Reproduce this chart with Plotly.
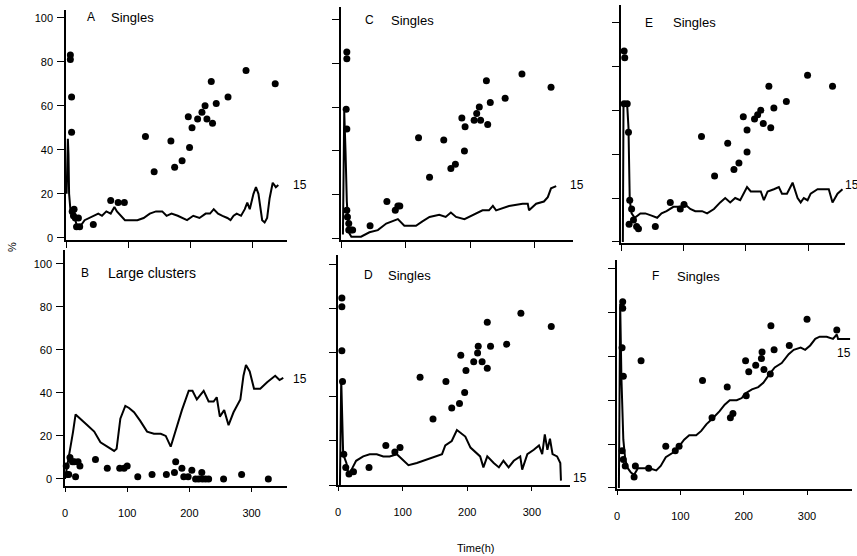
import plotly.graph_objects as go

W, H = 857, 556

# ---------------- data ----------------
A_line_x = [1, 2, 3, 4, 5, 7, 10, 13, 17, 20, 25, 30, 38, 45, 52, 58, 65, 72, 78, 82, 88, 95, 105, 115, 125, 135, 145, 155, 162, 170, 180, 188, 195, 205, 215, 225, 232, 238, 245, 252, 260, 265, 270, 275, 282, 288, 292, 296, 302, 306, 310, 313, 316, 320, 324, 328, 333, 338, 342]
A_line_y = [20, 30, 45, 38, 20, 13, 12, 10, 6, 5, 6, 8, 9, 10, 11, 10, 12, 11, 14, 12, 10, 8, 8, 8, 9, 11, 12, 12, 10, 11, 10, 9, 8, 10, 9, 11, 11, 13, 11, 10, 9, 8, 10, 11, 10, 13, 16, 13, 20, 23, 20, 14, 8, 7, 9, 18, 25, 23, 24]
A_pts_x = [7, 7, 9, 9, 10, 12, 13, 15, 17, 20, 22, 44, 72, 84, 94, 128, 142, 169, 175, 187, 199, 197, 203, 212, 219, 224, 227, 234, 236, 242, 261, 290, 337]
A_pts_y = [83, 81, 64, 48, 12, 10, 13, 9, 5, 9, 5, 6, 17, 16, 16, 46, 30, 44, 32, 35, 41, 55, 50, 54, 57, 60, 54, 71, 52, 61, 64, 76, 70]

B_line_x = [0, 3, 8, 13, 17, 21, 28, 36, 47, 57, 68, 79, 83, 89, 97, 103, 111, 121, 132, 143, 154, 162, 170, 180, 188, 199, 205, 212, 223, 231, 239, 244, 249, 256, 263, 271, 282, 287, 291, 297, 304, 314, 325, 338, 345, 351]
B_line_y = [0, 5, 12, 22, 30, 29, 27, 25, 22, 17, 15, 13, 14, 28, 34, 33, 31, 27, 22, 21, 21, 20, 15, 25, 32, 41, 41, 37, 41, 36, 36, 38, 29, 32, 25, 31, 37, 48, 53, 50, 42, 42, 45, 48, 46, 47]
B_pts_x = [2, 4, 6, 8, 12, 15, 17, 21, 24, 49, 68, 88, 95, 100, 117, 140, 163, 176, 178, 188, 191, 198, 204, 210, 215, 220, 221, 226, 231, 255, 284, 327]
B_pts_y = [6, 2, 2, 10, 8, 8, 1, 8, 6, 9, 5, 5, 5, 6, 1, 2, 2, 3, 8, 5, 1, 1, 4, 0, 0, 3, 0, 0, 0, 0, 2, 0]

C_line_x = [3, 5, 7, 9, 12, 16, 21, 31, 44, 57, 70, 80, 88, 98, 106, 116, 126, 137, 152, 162, 170, 178, 191, 204, 219, 229, 235, 240, 250, 260, 281, 289, 291, 302, 314, 320, 325, 333]
C_line_y = [2, 58, 40, 17, 3, 1, 1, 1, 3, 4, 7, 8, 9, 6, 6, 6, 8, 10, 11, 10, 12, 10, 9, 11, 13, 13, 15, 13, 14, 15, 16, 16, 13, 16, 17, 19, 23, 24]
C_pts_x = [9, 9, 8, 9, 9, 10, 12, 12, 15, 18, 45, 71, 84, 88, 91, 120, 137, 159, 170, 177, 187, 191, 192, 206, 210, 214, 216, 225, 227, 231, 254, 280, 325]
C_pts_y = [85, 82, 59, 50, 13, 10, 7, 4, 4, 4, 6, 17, 13, 15, 15, 46, 28, 45, 32, 34, 55, 40, 51, 54, 57, 60, 54, 72, 52, 62, 64, 75, 69]

D_line_x = [3, 5, 8, 13, 16, 21, 28, 39, 49, 60, 70, 80, 91, 101, 109, 122, 132, 143, 153, 161, 166, 176, 184, 189, 197, 205, 212, 220, 225, 231, 241, 249, 256, 264, 272, 282, 285, 293, 303, 311, 316, 320, 324, 328, 332, 339, 344, 345]
D_line_y = [0, 48, 14, 10, 5, 7, 11, 13, 14, 14, 13, 13, 14, 11, 9, 10, 11, 12, 13, 14, 18, 20, 25, 24, 22, 17, 15, 13, 8, 13, 10, 8, 11, 8, 11, 13, 7, 14, 16, 18, 14, 23, 16, 21, 14, 13, 10, 2]
D_pts_x = [6, 6, 6, 7, 9, 12, 17, 24, 48, 74, 88, 96, 127, 147, 167, 176, 188, 190, 196, 198, 210, 216, 217, 223, 231, 231, 236, 261, 283, 330]
D_pts_y = [85, 81, 61, 47, 14, 8, 5, 6, 8, 18, 15, 17, 49, 30, 47, 35, 37, 59, 42, 52, 56, 60, 63, 56, 53, 74, 63, 64, 78, 72]

E_line_x = [3, 4, 6, 10, 12, 14, 17, 22, 31, 39, 49, 58, 65, 73, 84, 95, 103, 111, 119, 130, 138, 149, 159, 167, 175, 183, 191, 202, 208, 216, 224, 229, 235, 245, 253, 258, 266, 275, 283, 288, 293, 299, 304, 315, 325, 333, 339, 347, 355]
E_line_y = [0, 63, 64, 62, 52, 19, 13, 11, 13, 13, 12, 11, 13, 14, 16, 16, 17, 15, 14, 14, 13, 15, 18, 20, 18, 20, 19, 25, 23, 23, 23, 19, 23, 24, 25, 22, 22, 27, 20, 18, 20, 19, 22, 24, 24, 24, 18, 22, 24]
E_pts_x = [5, 6, 5, 10, 12, 14, 17, 13, 20, 25, 28, 55, 79, 95, 101, 129, 150, 171, 181, 189, 196, 202, 202, 214, 219, 224, 228, 237, 240, 245, 265, 299, 339]
E_pts_y = [87, 84, 63, 63, 50, 19, 15, 8, 10, 7, 6, 7, 18, 15, 17, 48, 30, 45, 33, 36, 57, 51, 41, 56, 58, 60, 54, 71, 52, 61, 64, 76, 71]

F_line_x = [3, 5, 7, 10, 13, 17, 22, 27, 33, 40, 51, 62, 69, 77, 88, 98, 106, 114, 125, 133, 141, 152, 162, 170, 178, 189, 197, 202, 213, 223, 231, 241, 249, 260, 271, 279, 290, 297, 305, 313, 320, 331, 341, 347, 349, 357, 368]
F_line_y = [0, 84, 50, 22, 13, 9, 7, 6, 9, 9, 9, 8, 10, 14, 16, 19, 22, 24, 24, 26, 29, 32, 35, 38, 40, 40, 41, 43, 45, 46, 48, 52, 55, 57, 61, 63, 64, 63, 65, 68, 69, 69, 68, 70, 68, 68, 68]
F_pts_x = [9, 9, 8, 10, 8, 10, 13, 27, 29, 38, 50, 77, 92, 98, 135, 150, 174, 179, 183, 203, 204, 208, 219, 228, 229, 232, 242, 243, 248, 272, 300, 347]
F_pts_y = [85, 82, 64, 51, 17, 13, 10, 5, 10, 58, 9, 19, 17, 19, 49, 32, 46, 32, 34, 58, 42, 53, 56, 59, 62, 54, 52, 74, 63, 65, 77, 72]

x_ticks = [0, 100, 200, 300]
y_ticks = [0, 20, 40, 60, 80, 100]

# letter, word, series, pixel box (x0,x1,ytop,ybottom), ranges, label flags,
# letter pos, word pos, "15" label pos
panels = [
    ("A", "Singles", A_line_x, A_line_y, A_pts_x, A_pts_y, (66, 287, 10, 240), [0, 356], [-1, 103.5], True, False, (85, 17), (109, 17), (291, 185), 13),
    ("B", "Large clusters", B_line_x, B_line_y, B_pts_x, B_pts_y, (65, 287, 250, 486), [0, 357], [-3.3, 106.5], True, True, (79, 273), (106, 273), (291, 379), 14),
    ("C", "Singles", C_line_x, C_line_y, C_pts_x, C_pts_y, (341, 573, 7, 240), [0, 359], [-0.5, 105.5], False, False, (363, 20), (389, 20), (568, 185), 13),
    ("D", "Singles", D_line_x, D_line_y, D_pts_x, D_pts_y, (338, 570, 255, 485), [0, 359], [0, 104.5], False, True, (362, 275), (386, 275), (571, 478), 13),
    ("E", "Singles", E_line_x, E_line_y, E_pts_x, E_pts_y, (621, 845, 5, 243), [0, 359], [-0.5, 108], False, False, (643, 23), (671, 23), (843, 185), 13),
    ("F", "Singles", F_line_x, F_line_y, F_pts_x, F_pts_y, (617, 852, 260, 489), [0, 371], [-0.5, 104], False, True, (650, 276), (675, 276), (835, 353), 13),
]

FONT = "Liberation Sans, Arial, sans-serif"
INK = "#000000"

fig = go.Figure()
layout = dict(
    template="none",
    width=W, height=H,
    margin=dict(l=0, r=0, t=0, b=0),
    paper_bgcolor="white", plot_bgcolor="white",
    showlegend=False,
    font=dict(family=FONT, size=11, color=INK),
)
annotations = []


def ann(text, px, py, size=11, anchor="left", angle=0):
    return dict(text=text, x=px / W, y=1 - py / H, xref="paper", yref="paper",
                xanchor=anchor, yanchor="middle", showarrow=False, textangle=angle,
                font=dict(family=FONT, size=size, color=INK))


for i, (letter, word, lx, ly, px, py, box, xr, yr, ylab, xlab, lpos, wpos, epos, tsize) in enumerate(panels):
    n = "" if i == 0 else str(i + 1)
    x0, x1, yt, yb = box
    xa = "x" + n
    ya = "y" + n
    fig.add_trace(go.Scatter(x=lx, y=ly, mode="lines", xaxis=xa, yaxis=ya,
                             line=dict(color=INK, width=2), hoverinfo="skip"))
    fig.add_trace(go.Scatter(x=px, y=py, mode="markers", xaxis=xa, yaxis=ya,
                             marker=dict(color=INK, size=7, line=dict(width=0)),
                             cliponaxis=False, hoverinfo="skip"))
    layout["xaxis" + n] = dict(
        domain=[x0 / W, x1 / W], range=xr, anchor=ya,
        showgrid=False, zeroline=False, showline=True, linecolor=INK, linewidth=1.5,
        ticks="outside", ticklen=6 if not xlab else 4, tickwidth=1.2, tickcolor=INK,
        tickvals=x_ticks, showticklabels=xlab, ticklabelstandoff=12,
        tickfont=dict(family=FONT, size=11, color=INK),
    )
    layout["yaxis" + n] = dict(
        domain=[1 - yb / H, 1 - yt / H], range=yr, anchor=xa,
        showgrid=False, zeroline=False, showline=True, linecolor=INK, linewidth=1.5,
        ticks="outside", ticklen=7, tickwidth=1.2, tickcolor=INK,
        tickvals=y_ticks, showticklabels=ylab, ticklabelstandoff=2,
        tickfont=dict(family=FONT, size=11, color=INK),
    )
    annotations.append(ann(letter, lpos[0], lpos[1], size=12))
    annotations.append(ann(word, wpos[0], wpos[1], size=tsize))
    annotations.append(ann("15", epos[0], epos[1], size=12))

annotations.append(ann("%", 12, 247, size=11, anchor="center", angle=-90))
annotations.append(ann("Time(h)", 475, 548, size=11, anchor="center"))

layout["annotations"] = annotations
fig.update_layout(**layout)
fig.write_html("out.html")
